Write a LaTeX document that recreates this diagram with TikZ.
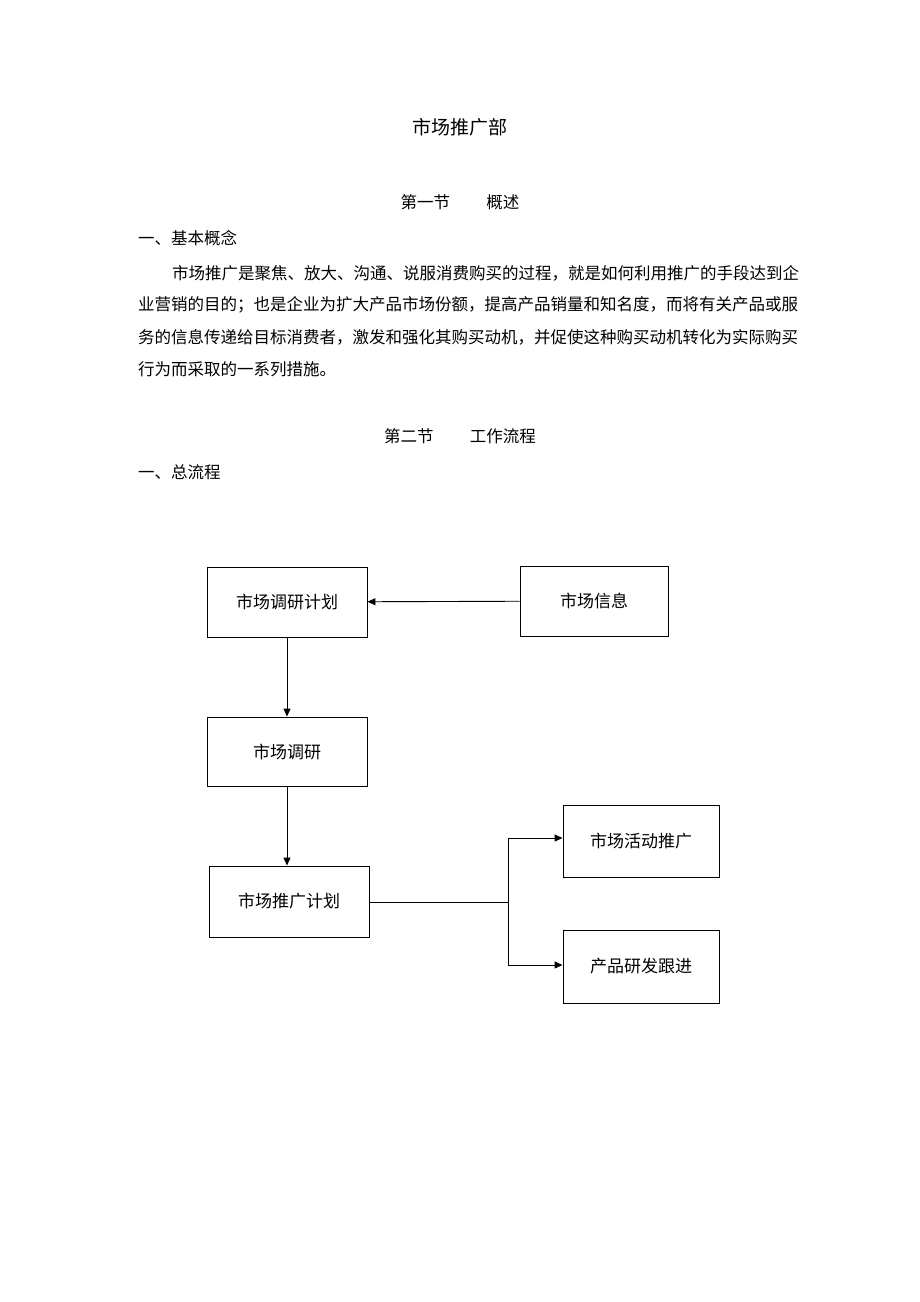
\documentclass[tikz,border=0pt]{standalone}
\usepackage{fontspec}
\setmainfont{Noto Sans CJK SC}
\usetikzlibrary{arrows.meta}
\begin{document}
\begin{tikzpicture}[x=1pt,y=-1pt,
  box/.style={draw,line width=0.9pt,minimum width=160pt,minimum height=70pt,font=\fontsize{17}{20}\selectfont},
  txt/.style={font=\fontsize{16.5}{20}\selectfont,inner sep=0pt},
  arr/.style={line width=0.9pt,-{Triangle[length=8pt,width=7pt]}}]
\useasboundingbox (0,0) rectangle (920,1302);
\node[txt,font=\fontsize{19}{22}\selectfont] (title) at (460,127) {市场推广部};
\node[txt] (s1) at (460,202) {第一节\hspace{2.2em}概述};
\node[txt,anchor=west] (h1) at (138,238) {一、基本概念};
\node[txt,anchor=west] (p1) at (172,273) {市场推广是聚焦、放大、沟通、说服消费购买的过程，就是如何利用推广的手段达到企};
\node[txt,anchor=west] (p2) at (138,305) {业营销的目的；也是企业为扩大产品市场份额，提高产品销量和知名度，而将有关产品或服};
\node[txt,anchor=west] (p3) at (138,337) {务的信息传递给目标消费者，激发和强化其购买动机，并促使这种购买动机转化为实际购买};
\node[txt,anchor=west] (p4) at (138,369) {行为而采取的一系列措施。};
\node[txt] (s2) at (460,436) {第二节\hspace{2.2em}工作流程};
\node[txt,anchor=west] (h2) at (138,472) {一、总流程};
\node[box] (A) at (287,602) {市场调研计划};
\node[box,minimum width=148pt] (B) at (594,601) {市场信息};
\node[box,minimum height=69pt] (C) at (287,751.5) {市场调研};
\node[box,minimum height=71pt] (D) at (289,901.5) {市场推广计划};
\node[box,minimum width=156pt,minimum height=72pt] (E) at (641,841) {市场活动推广};
\node[box,minimum width=156pt,minimum height=73pt] (F) at (641,966.5) {产品研发跟进};
\coordinate (J) at (508,902);
\draw[arr] (B) -- (A);
\draw[arr] (A) -- (C);
\draw[arr] (C.south) -- (C.south|-D.north);
\draw[line width=0.9pt] (D.east|-J) -- (J);
\draw[arr] (J) |- (E.west|-0,838);
\draw[arr] (J) |- (F.west|-0,965);
\end{tikzpicture}
\end{document}
